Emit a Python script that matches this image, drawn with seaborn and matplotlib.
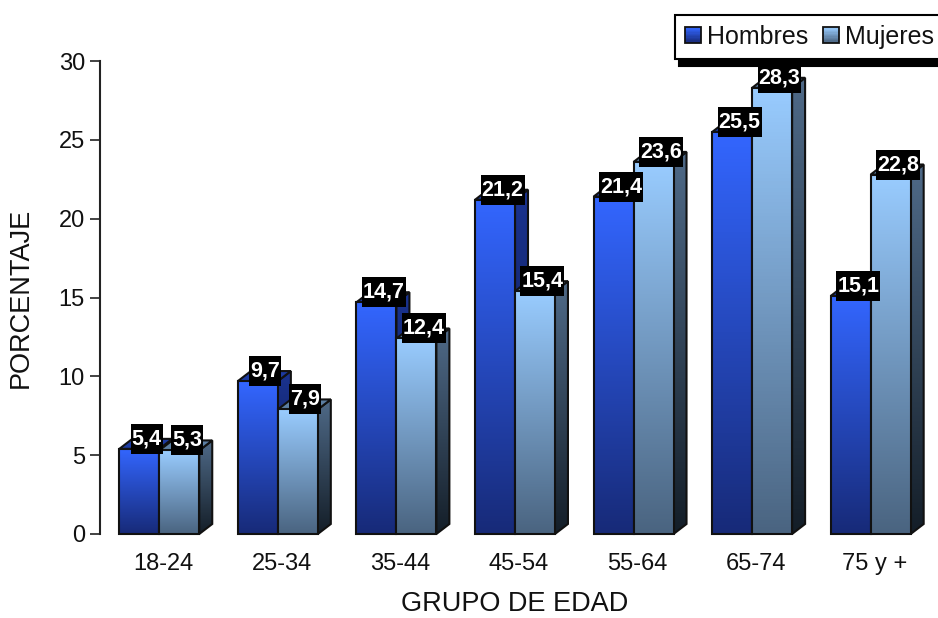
import numpy as np
import pandas as pd
import seaborn as sns
import matplotlib.pyplot as plt
from matplotlib.colors import to_rgb
from matplotlib.legend_handler import HandlerBase
from matplotlib.patches import Patch, Polygon, Rectangle
from matplotlib.path import Path
from matplotlib.transforms import ScaledTranslation

grupos = ['18-24', '25-34', '35-44', '45-54', '55-64', '65-74', '75 y +']
hombres = [5.4, 9.7, 14.7, 21.2, 21.4, 25.5, 15.1]
mujeres = [5.3, 7.9, 12.4, 15.4, 23.6, 28.3, 22.8]

# front top/bottom, side top/bottom, top face
colores = {
    'Hombres': ('#3366ff', '#172a78', '#1a3390', '#0c1640', '#1c3aa0'),
    'Mujeres': ('#99ccff', '#4a6480', '#4f6a88', '#141e28', '#5c7fa3'),
}
DX, DY = 13, 10  # 3d depth in pixels

df = pd.DataFrame({
    'grupo': grupos * 2,
    'porcentaje': hombres + mujeres,
    'sexo': ['Hombres'] * 7 + ['Mujeres'] * 7,
})

sns.set_style('white')
plt.rcParams['font.family'] = ['Liberation Sans', 'DejaVu Sans']
plt.rcParams['text.color'] = '#111111'

W, H = 938, 618
AW, AH = 830, 473
fig = plt.figure(figsize=(W / 100, H / 100), dpi=100)
ax = fig.add_axes([100 / W, 1 - 534 / H, AW / W, AH / H])
sns.barplot(data=df, x='grupo', y='porcentaje', hue='sexo', order=grupos,
            palette={k: v[0] for k, v in colores.items()},
            width=0.674, gap=0, legend=False, ax=ax)
ax.set_xlim(-0.5, 6.5)
ax.set_ylim(0, 30)

px = 7 / AW
py = 30 / AH


def degradado(poly, c_top, c_bot, y0, y1, z):
    a, b = np.array(to_rgb(c_top)), np.array(to_rgb(c_bot))
    t = np.linspace(0, 1, 128)[:, None, None]
    img = a * (1 - t) + b * t
    xs = [p[0] for p in poly]
    im = ax.imshow(img, extent=(min(xs), max(xs), y0, y1), origin='upper',
                   aspect='auto', zorder=z)
    pg = Polygon(poly, closed=True, fc='none', ec='#111111', lw=1.5, zorder=z + 0.1, clip_on=False)
    ax.add_patch(pg)
    im.set_clip_path(pg)


def caja_etiqueta(x0, y0, width, height, mutation_size):
    # black box of fixed height, text is as wide as the box
    yc = y0 + height / 2
    x0, x1 = x0 - 1, x0 + width + 1
    y0, y1 = yc - 15, yc + 15
    return Path([(x0, y0), (x1, y0), (x1, y1), (x0, y1), (x0, y0)], closed=True)


barras = []
for cont, sexo in zip(ax.containers, ['Hombres', 'Mujeres']):
    for i, b in enumerate(cont):
        barras.append((i, sexo, b))
        b.set_visible(False)
barras.sort(key=lambda r: (r[0], r[1]))

z = 3
for i, sexo, b in barras:
    c = colores[sexo]
    x0, x1, h = b.get_x(), b.get_x() + b.get_width(), b.get_height()
    dx, dy = DX * px, DY * py
    degradado([(x1, 0), (x1 + dx, dy), (x1 + dx, h + dy), (x1, h)], c[2], c[3], 0, h + dy, z)
    ax.add_patch(Polygon([(x0, h), (x0 + dx, h + dy), (x1 + dx, h + dy), (x1, h)],
                         fc=c[4], ec='#111111', lw=1.5, zorder=z + 0.2, clip_on=False))
    degradado([(x0, 0), (x1, 0), (x1, h), (x0, h)], c[0], c[1], 0, h, z + 0.3)
    z += 1

for i, sexo, b in barras:
    ax.annotate(f'{b.get_height():.1f}'.replace('.', ','),
                (b.get_x() + b.get_width() / 2, b.get_height()),
                xytext=(7.5 * 0.72, 10 * 0.72), textcoords='offset points',
                ha='center', va='center', color='white', fontweight='bold', fontsize=15.5,
                bbox=dict(boxstyle=caja_etiqueta, fc='black', ec='none'),
                zorder=50, annotation_clip=False)

sns.despine(ax=ax, top=True, right=True, bottom=True)
ax.spines['left'].set_color('#222222')
ax.spines['left'].set_linewidth(1.5)
ax.set_yticks(range(0, 31, 5))
ax.tick_params(axis='y', left=True, length=7.2, width=1.2, color='#222222', labelsize=17, pad=3.6, labelcolor='#111111')
ax.tick_params(axis='x', bottom=False, labelsize=17, pad=10, labelcolor='#111111')
for t in ax.get_xticklabels():
    t.set_transform(t.get_transform() + ScaledTranslation(4 / 100, 0, fig.dpi_scale_trans))
ax.set_xlabel('GRUPO DE EDAD', fontsize=19.5, color='#111111')
ax.xaxis.set_label_coords(0.5, -0.12)
ax.set_ylabel('PORCENTAJE', fontsize=19.5, color='#111111')
ax.yaxis.set_label_coords(-0.08, 0.5)


class HandlerDegradado(HandlerBase):
    def create_artists(self, legend, orig, xd, yd, w, h, fs, trans):
        s = 11.5
        x0, y0 = -xd + (w - s) / 2, -yd + (h - s) / 2
        a = np.array(to_rgb(orig.c_top))
        b = np.array(to_rgb(orig.c_bot))
        out = []
        n = 12
        for k in range(n):
            f = k / (n - 1)
            out.append(Rectangle((x0, y0 + s * (1 - (k + 1) / n)), s, s / n + 0.2,
                                 fc=a * (1 - f) + b * f, ec='none', transform=trans))
        out.append(Rectangle((x0, y0), s, s, fc='none', ec='#111111', lw=1.3, transform=trans))
        return out


handles = []
for k in ['Hombres', 'Mujeres']:
    p = Patch(label=k)
    p.c_top, p.c_bot = colores[k][0], colores[k][1]
    handles.append(p)

leg = fig.legend(handles=handles, ncol=2, loc='upper left',
                 bbox_to_anchor=(675 / W, 1 - 15 / H), bbox_transform=fig.transFigure,
                 handler_map={Patch: HandlerDegradado()},
                 fontsize=18, frameon=True, fancybox=False, edgecolor='black', facecolor='white',
                 framealpha=1, borderaxespad=0, handlelength=0.64, handletextpad=0.24, columnspacing=0.6,
                 borderpad=0.4, labelcolor='#111111',
                 shadow={'ox': 3, 'oy': -5, 'facecolor': 'black', 'edgecolor': 'black', 'alpha': 1})
leg.get_frame().set_linewidth(1.5)

plt.savefig('out.png', dpi=100)
